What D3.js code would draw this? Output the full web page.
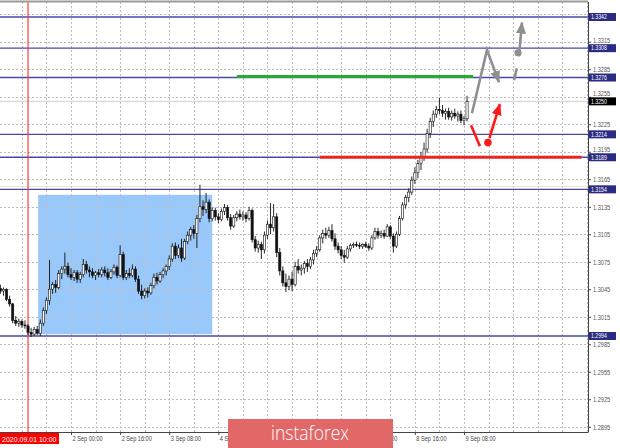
<!DOCTYPE html>
<html><head><meta charset="utf-8">
<script src="https://cdn.jsdelivr.net/npm/d3@7"></script>
<style>html,body{margin:0;padding:0;background:#fff;overflow:hidden}svg{display:block}</style>
</head><body><svg id="c" width="620" height="448"></svg>
<script>
// ---- data (H1 candles, 1 Sep 01:00 .. 9 Sep 09:00) ----
const opens = [
1.3046,1.3043,1.3045,1.3034,1.3029,1.3011,1.3008,1.3010,1.3006,1.3005,
1.2998,1.2996,1.3001,1.2997,1.3008,1.3022,1.3033,1.3045,1.3050,1.3047,
1.3062,1.3067,1.3070,1.3061,1.3058,1.3063,1.3056,1.3061,1.3072,1.3066,
1.3064,1.3060,1.3063,1.3061,1.3066,1.3063,1.3058,1.3064,1.3069,1.3060,
1.3083,1.3058,1.3062,1.3060,1.3067,1.3056,1.3043,1.3038,1.3043,1.3041,
1.3049,1.3058,1.3054,1.3061,1.3065,1.3070,1.3078,1.3092,1.3082,1.3090,
1.3079,1.3097,1.3104,1.3110,1.3106,1.3122,1.3135,1.3132,1.3140,1.3122,
1.3131,1.3124,1.3121,1.3130,1.3134,1.3123,1.3114,1.3123,1.3127,1.3124,
1.3126,1.3122,1.3131,1.3099,1.3090,1.3094,1.3088,1.3104,1.3116,1.3112,
1.3124,1.3085,1.3065,1.3052,1.3048,1.3056,1.3050,1.3070,1.3066,1.3068,
1.3073,1.3070,1.3077,1.3084,1.3088,1.3101,1.3106,1.3104,1.3109,1.3100,
1.3092,1.3088,1.3082,1.3080,1.3089,1.3093,1.3094,1.3093,1.3092,1.3094,
1.3092,1.3090,1.3101,1.3108,1.3104,1.3106,1.3103,1.3113,1.3103,1.3092,
1.3105,1.3122,1.3137,1.3145,1.3151,1.3164,1.3172,1.3182,1.3190,1.3198,
1.3215,1.3228,1.3236,1.3241,1.3240,1.3237,1.3239,1.3233,1.3237,1.3234,
1.3236,1.3229,1.3231];
const highs = [
1.3050,1.3047,1.3046,1.3038,1.3030,1.3016,1.3013,1.3012,1.3011,1.3007,
1.3003,1.3004,1.3005,1.3012,1.3025,1.3036,1.3077,1.3053,1.3055,1.3066,
1.3070,1.3085,1.3074,1.3068,1.3066,1.3066,1.3064,1.3078,1.3076,1.3070,
1.3068,1.3065,1.3067,1.3069,1.3070,1.3068,1.3067,1.3072,1.3071,1.3093,
1.3086,1.3066,1.3068,1.3072,1.3070,1.3060,1.3050,1.3046,1.3047,1.3052,
1.3062,1.3063,1.3064,1.3068,1.3072,1.3082,1.3095,1.3096,1.3094,1.3100,
1.3100,1.3108,1.3113,1.3115,1.3126,1.3159,1.3142,1.3150,1.3143,1.3134,
1.3134,1.3128,1.3133,1.3138,1.3137,1.3127,1.3126,1.3130,1.3132,1.3130,
1.3129,1.3135,1.3133,1.3103,1.3098,1.3097,1.3108,1.3120,1.3139,1.3138,
1.3128,1.3090,1.3070,1.3062,1.3060,1.3064,1.3075,1.3078,1.3072,1.3076,
1.3078,1.3080,1.3088,1.3092,1.3104,1.3110,1.3112,1.3113,1.3116,1.3106,
1.3096,1.3092,1.3088,1.3092,1.3095,1.3096,1.3097,1.3096,1.3095,1.3097,
1.3095,1.3104,1.3112,1.3112,1.3109,1.3110,1.3116,1.3115,1.3106,1.3108,
1.3125,1.3140,1.3148,1.3155,1.3168,1.3178,1.3186,1.3195,1.3205,1.3220,
1.3232,1.3240,1.3245,1.3254,1.3246,1.3242,1.3243,1.3240,1.3242,1.3239,
1.3240,1.3234,1.3256];
const lows = [
1.3040,1.3038,1.3032,1.3026,1.3008,1.3005,1.3004,1.3003,1.3002,1.2995,
1.2993,1.2994,1.2995,1.2994,1.3005,1.3018,1.3028,1.3040,1.3041,1.3045,
1.3056,1.3062,1.3058,1.3055,1.3054,1.3052,1.3052,1.3058,1.3062,1.3058,
1.3057,1.3055,1.3058,1.3058,1.3059,1.3055,1.3056,1.3061,1.3057,1.3058,
1.3055,1.3055,1.3057,1.3058,1.3053,1.3040,1.3034,1.3035,1.3036,1.3039,
1.3046,1.3050,1.3052,1.3057,1.3060,1.3066,1.3075,1.3078,1.3079,1.3075,
1.3077,1.3094,1.3098,1.3100,1.3090,1.3118,1.3125,1.3128,1.3118,1.3119,
1.3120,1.3117,1.3119,1.3126,1.3120,1.3110,1.3112,1.3119,1.3121,1.3120,
1.3118,1.3120,1.3096,1.3086,1.3085,1.3078,1.3084,1.3100,1.3105,1.3108,
1.3080,1.3060,1.3048,1.3042,1.3044,1.3043,1.3048,1.3062,1.3060,1.3062,
1.3064,1.3067,1.3072,1.3080,1.3086,1.3095,1.3100,1.3101,1.3097,1.3088,
1.3084,1.3078,1.3074,1.3078,1.3086,1.3090,1.3091,1.3089,1.3089,1.3090,
1.3087,1.3088,1.3099,1.3100,1.3101,1.3100,1.3102,1.3100,1.3085,1.3090,
1.3103,1.3120,1.3133,1.3140,1.3148,1.3160,1.3166,1.3175,1.3185,1.3194,
1.3210,1.3222,1.3232,1.3236,1.3233,1.3230,1.3230,1.3229,1.3231,1.3228,
1.3226,1.3224,1.3228];
const closes = [
1.3043,1.3045,1.3034,1.3029,1.3011,1.3008,1.3010,1.3006,1.3005,1.2998,
1.2996,1.3001,1.2997,1.3008,1.3022,1.3033,1.3045,1.3050,1.3047,1.3062,
1.3067,1.3070,1.3061,1.3058,1.3063,1.3056,1.3061,1.3072,1.3066,1.3064,
1.3060,1.3063,1.3061,1.3066,1.3063,1.3058,1.3064,1.3069,1.3060,1.3083,
1.3058,1.3062,1.3060,1.3067,1.3056,1.3043,1.3038,1.3043,1.3041,1.3049,
1.3058,1.3054,1.3061,1.3065,1.3070,1.3078,1.3092,1.3082,1.3090,1.3079,
1.3097,1.3104,1.3110,1.3106,1.3122,1.3135,1.3132,1.3140,1.3122,1.3131,
1.3124,1.3121,1.3130,1.3134,1.3123,1.3114,1.3123,1.3127,1.3124,1.3126,
1.3122,1.3131,1.3099,1.3090,1.3094,1.3088,1.3104,1.3116,1.3112,1.3124,
1.3085,1.3065,1.3052,1.3048,1.3056,1.3050,1.3070,1.3066,1.3068,1.3073,
1.3070,1.3077,1.3084,1.3088,1.3101,1.3106,1.3104,1.3109,1.3100,1.3092,
1.3088,1.3082,1.3080,1.3089,1.3093,1.3094,1.3093,1.3092,1.3094,1.3092,
1.3090,1.3101,1.3108,1.3104,1.3106,1.3103,1.3113,1.3103,1.3092,1.3105,
1.3122,1.3137,1.3145,1.3151,1.3164,1.3172,1.3182,1.3190,1.3198,1.3215,
1.3228,1.3236,1.3241,1.3240,1.3237,1.3239,1.3233,1.3237,1.3234,1.3236,
1.3229,1.3231,1.3250];

const priceTicks = [1.3345,1.3315,1.3285,1.3255,1.3225,1.3195,1.3165,1.3135,1.3105,1.3075,1.3045,1.3015,1.2985,1.2955,1.2925,1.2895];
const levels = [1.3342,1.3308,1.3276,1.3214,1.3189,1.3154,1.2994];
const bidPrice = 1.3250;
// labels that are covered in the reference (by the red marker tag and the logo) are left blank
const timeTickIdx = [7,23,39,55,71,87,103,119,135,151];
const timeTickLabels = ["","2 Sep 00:00","2 Sep 16:00","3 Sep 08:00","4 Sep 00:00","","","8 Sep 00:00","8 Sep 16:00","9 Sep 08:00"];
const markerIdx = 9, markerLabel = "2020.09.01 10:00";
const zone = {i0:12.3, i1:69, top:1.3148, bottom:1.2996};
const greenLine = {i0:77, i1:154, price:1.3277};
const redLine = {i0:104, i1:189.3, price:1.3189};
const highLine = 1.3157;
const grayPath = [[153.6,1.3237],[158.5,1.3306],[162.4,1.3271]];
const grayDash = [[167.3,1.3273],[168.2,1.3286]];
const grayDot = [168.6,1.3303];
const grayUp = [[168.9,1.3299],[169.9,1.3336]];
const redPath = [[153.3,1.3224],[156.2,1.3201]];
const redDot = [158.8,1.3205];
const redUp = [[159.3,1.3210],[162.7,1.3247]];

// ---- layout ----
const plotR = 588, plotT = 2, plotB = 432;
const x = d3.scaleLinear().domain([0,191.4]).range([0.4,plotR]);
const y = d3.scaleLinear().domain([1.3342,1.2994]).range([17,336]);
const svg = d3.select("#c");
const defs = svg.append("defs");
defs.append("clipPath").attr("id","pc").append("rect").attr("x",0).attr("y",plotT).attr("width",plotR).attr("height",plotB-plotT);
function mk(id,color){
  defs.append("marker").attr("id",id).attr("viewBox","0 0 12 10").attr("refX",11).attr("refY",5)
   .attr("markerWidth",12).attr("markerHeight",10).attr("markerUnits","userSpaceOnUse").attr("orient","auto")
   .append("path").attr("d","M0,0 L12,5 L0,10 Z").attr("fill",color);
}
mk("ag","#8f8f8f"); mk("ar","#ff1a1a");

svg.append("rect").attr("width",620).attr("height",448).attr("fill","#fff");
const g = svg.append("g").attr("clip-path","url(#pc)");

// zone
g.append("rect").attr("x",x(zone.i0)).attr("y",y(zone.top)).attr("width",x(zone.i1)-x(zone.i0)).attr("height",y(zone.bottom)-y(zone.top)).attr("fill","#99c8fb");

// grid
g.selectAll(".hg").data(priceTicks).join("line").attr("x1",0).attr("x2",plotR).attr("y1",d=>Math.round(y(d))+0.5).attr("y2",d=>Math.round(y(d))+0.5)
 .attr("stroke","#bdbdbd").attr("stroke-width",1).attr("stroke-dasharray","2,2");
const vIdx = d3.range(7,192,8);
g.selectAll(".vg").data(vIdx).join("line").attr("x1",d=>Math.round(x(d))+0.5).attr("x2",d=>Math.round(x(d))+0.5).attr("y1",plotT).attr("y2",plotB)
 .attr("stroke","#bdbdbd").attr("stroke-width",1).attr("stroke-dasharray","2,2");

// faint lines
g.append("line").attr("x1",0).attr("x2",plotR).attr("y1",y(highLine)).attr("y2",y(highLine)).attr("stroke","#f1e9bd").attr("stroke-width",1);
g.append("line").attr("x1",0).attr("x2",plotR).attr("y1",y(bidPrice)).attr("y2",y(bidPrice)).attr("stroke","#d2d2d2").attr("stroke-width",1);

// levels
g.selectAll(".lv").data(levels).join("line").attr("x1",0).attr("x2",plotR).attr("y1",d=>y(d)).attr("y2",d=>y(d))
 .attr("stroke","#4848a8").attr("stroke-width",1.3);

// red vertical marker
g.append("line").attr("x1",x(markerIdx)).attr("x2",x(markerIdx)).attr("y1",plotT).attr("y2",plotB).attr("stroke","#ff3b3b").attr("stroke-width",1.2);

// candles
const idx = d3.range(closes.length);
const cg = g.append("g");
cg.selectAll(".w").data(idx).join("line").attr("x1",i=>x(i)).attr("x2",i=>x(i)).attr("y1",i=>y(highs[i])).attr("y2",i=>y(lows[i]))
 .attr("stroke","#111").attr("stroke-width",0.9);
cg.selectAll(".b").data(idx).join("rect")
 .attr("x",i=>x(i)-1.1).attr("width",2.2)
 .attr("y",i=>y(Math.max(opens[i],closes[i])))
 .attr("height",i=>Math.max(0.8,Math.abs(y(opens[i])-y(closes[i]))))
 .attr("fill",i=>closes[i]>=opens[i]?"#fff":"#111")
 .attr("stroke","#111").attr("stroke-width",0.6);

// green / red horizontal lines
g.append("line").attr("x1",x(greenLine.i0)).attr("x2",x(greenLine.i1)).attr("y1",y(greenLine.price)).attr("y2",y(greenLine.price)).attr("stroke","#23ad2f").attr("stroke-width",3);
g.append("line").attr("x1",x(redLine.i0)).attr("x2",x(redLine.i1)).attr("y1",y(redLine.price)).attr("y2",y(redLine.price)).attr("stroke","#ee2424").attr("stroke-width",3);

// arrows
const ln = d3.line().x(d=>x(d[0])).y(d=>y(d[1]));
g.append("path").attr("d",ln(grayPath)).attr("fill","none").attr("stroke","#8f8f8f").attr("stroke-width",2.6).attr("stroke-linejoin","miter").attr("marker-end","url(#ag)");
g.append("path").attr("d",ln(grayDash)).attr("fill","none").attr("stroke","#8f8f8f").attr("stroke-width",2.6);
g.append("circle").attr("cx",x(grayDot[0])).attr("cy",y(grayDot[1])).attr("r",3.6).attr("fill","#8f8f8f");
g.append("path").attr("d",ln(grayUp)).attr("fill","none").attr("stroke","#8f8f8f").attr("stroke-width",2.6).attr("marker-end","url(#ag)");
g.append("path").attr("d",ln(redPath)).attr("fill","none").attr("stroke","#ff1a1a").attr("stroke-width",2.6);
g.append("circle").attr("cx",x(redDot[0])).attr("cy",y(redDot[1])).attr("r",3.8).attr("fill","#ff1a1a");
g.append("path").attr("d",ln(redUp)).attr("fill","none").attr("stroke","#ff1a1a").attr("stroke-width",2.6).attr("marker-end","url(#ar)");

// frame
svg.append("line").attr("x1",0).attr("x2",plotR).attr("y1",1.5).attr("y2",1.5).attr("stroke","#9a9a9a").attr("stroke-width",2);

// level label positions (used to keep grid labels clear of the tags)
const lvAll = levels.map(p=>({p,bg:"#2b2b85"})).concat([{p:bidPrice,bg:"#000"}]);
const tagH = 8;

// right axis
const ya = svg.append("g").attr("transform",`translate(${plotR},0)`)
 .call(d3.axisRight(y).tickValues(priceTicks).tickFormat(d3.format(".4f")).tickSize(3).tickPadding(2));
ya.select(".domain").attr("stroke","#444").attr("d",`M0.5,${plotT}V${plotB}`);
ya.selectAll(".tick line").attr("stroke","#444");
ya.selectAll("text").attr("font-family","'Liberation Sans',Arial,sans-serif").attr("font-size",7).attr("fill","#555").attr("class","cond");
ya.selectAll(".tick").each(function(d){
  const ty = y(d);
  const near = lvAll.map(l=>y(l.p)).filter(ly=>Math.abs(ly-ty)<8.5);
  if(!near.length) return;
  const ly = near[0];
  const t = d3.select(this).select("text");
  if(Math.abs(ly-ty)<3.5){ t.remove(); return; }      // fully covered by the tag
  if(ly>ty){ const shift = (ly-tagH/2) - (ty+4) ; if(shift<0) t.attr("y",shift); }
  else { const shift = (ly+tagH/2) - (ty-4); if(shift>0) t.attr("y",shift); }
});

// bottom axis
const xa = svg.append("g").attr("transform",`translate(0,${plotB})`)
 .call(d3.axisBottom(x).tickValues(timeTickIdx).tickFormat((d,i)=>timeTickLabels[i]).tickSize(3).tickPadding(2));
xa.select(".domain").attr("stroke","#444").attr("d",`M0,0.5H${plotR+0.5}`);
xa.selectAll(".tick line").attr("stroke","#444");
xa.selectAll("text").attr("font-family","'Liberation Sans',Arial,sans-serif").attr("font-size",7).attr("fill","#444")
 .attr("text-anchor","start").attr("x",1).attr("dy","0.6em").attr("class","cond");
xa.selectAll("text").filter(function(){return this.textContent==="";}).remove();

// level labels
const lb = svg.append("g");
const lg = lb.selectAll("g").data(lvAll).join("g").attr("transform",d=>`translate(${plotR+1},${y(d.p)})`);
lg.append("rect").attr("x",0).attr("y",-tagH/2).attr("width",27).attr("height",tagH).attr("fill",d=>d.bg);
lg.append("text").attr("x",2).attr("y",0).attr("dy","0.35em").text(d=>d3.format(".4f")(d.p))
 .attr("font-family","'Liberation Sans',Arial,sans-serif").attr("font-size",6.5).attr("fill","#fff").attr("class","cond");

// red time marker label
svg.append("rect").attr("x",0).attr("y",plotB+1).attr("width",59).attr("height",11).attr("fill","#ff0000");
svg.append("text").attr("x",2).attr("y",plotB+9.5).text(markerLabel)
 .attr("font-family","'Liberation Sans',Arial,sans-serif").attr("font-size",7).attr("fill","#fff");

// condense axis texts
svg.selectAll("text.cond").each(function(){
  const w=this.getComputedTextLength();
  d3.select(this).attr("textLength",w*0.8).attr("lengthAdjust","spacingAndGlyphs");
});

// logo
svg.append("rect").attr("x",228).attr("y",419).attr("width",165).attr("height",29).attr("fill","#e26868");
svg.append("text").attr("x",271).attr("y",440).text("instaforex")
 .attr("font-family","'Open Sans',sans-serif").attr("font-weight",300).attr("font-size",20).attr("fill","#fff")
 .attr("textLength",78).attr("lengthAdjust","spacingAndGlyphs");
</script></body></html>
